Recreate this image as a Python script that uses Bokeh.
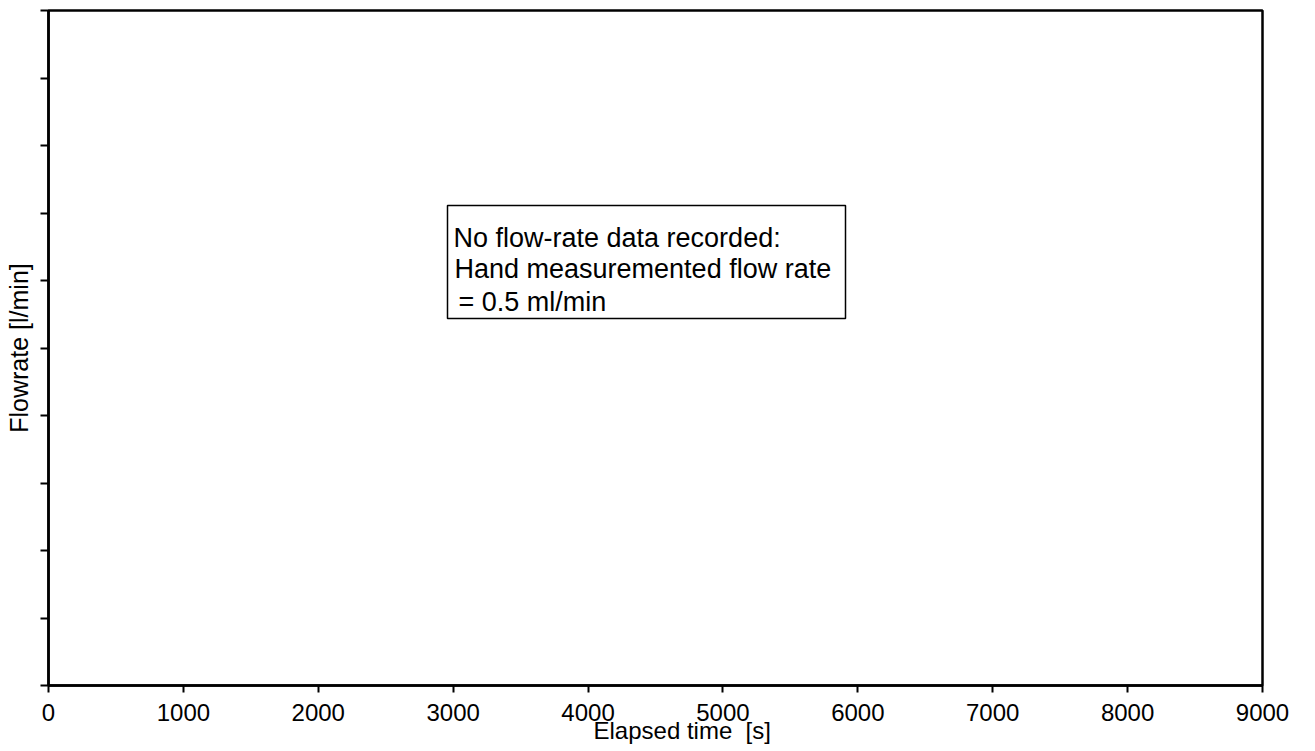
from bokeh.plotting import figure
from bokeh.models import Range1d, FixedTicker, Label, BoxAnnotation, CustomJSTickFormatter, Title
from bokeh.embed import file_html
from bokeh.resources import INLINE

# ---- data ----
x_ticks = [0, 1000, 2000, 3000, 4000, 5000, 6000, 7000, 8000, 9000]
y_ticks = [0, 1, 2, 3, 4, 5, 6, 7, 8, 9, 10]
x_label = "Elapsed time \u00a0[s]"
y_label = "Flowrate [l/min]"
note_lines = ["No flow-rate data recorded:", "Hand measuremented flow rate", "= 0.5 ml/min"]

FONT = "Liberation Sans"

p = figure(width=1315, height=751, output_backend="svg", toolbar_location=None,
           x_range=Range1d(x_ticks[0], x_ticks[-1]), y_range=Range1d(y_ticks[0], y_ticks[-1]),
           min_border_left=48, min_border_right=53, min_border_top=10, min_border_bottom=66)
p.background_fill_color = "white"
p.border_fill_color = "white"
p.grid.visible = False
p.outline_line_color = "black"
p.outline_line_width = 2.5

# x axis
xa = p.xaxis[0]
xa.ticker = FixedTicker(ticks=x_ticks)
xa.minor_tick_line_color = None
xa.major_tick_in = 0
xa.major_tick_out = 7
xa.major_tick_line_width = 2
xa.axis_line_width = 2.5
xa.major_label_standoff = 11
xa.major_label_text_font = FONT
xa.major_label_text_font_size = "24px"
xa.major_label_text_color = "black"

# y axis (no tick labels)
ya = p.yaxis[0]
ya.ticker = FixedTicker(ticks=y_ticks)
ya.minor_tick_line_color = None
ya.major_tick_in = 0
ya.major_tick_out = 8
ya.major_tick_line_width = 2
ya.axis_line_width = 2.5
ya.formatter = CustomJSTickFormatter(code="return ''")
ya.axis_label = y_label
ya.axis_label_text_font = FONT
ya.axis_label_text_font_size = "25px"
ya.axis_label_text_font_style = "normal"
ya.axis_label_text_color = "black"
ya.axis_label_standoff = 8

# x axis title as an offset title (it sits right of centre, overlapping tick labels)
p.add_layout(Title(text=x_label, align="left", offset=545, standoff=-18,
                   text_font=FONT, text_font_size="24px", text_font_style="normal",
                   text_color="black"), "below")

# frame pixel geometry -> data conversions
frame_w = 1315 - 48 - 53
frame_h = 751 - 10 - 66
def dx(px):
    return (px - 48) / frame_w * (x_ticks[-1] - x_ticks[0]) + x_ticks[0]
def dy(py):
    return (751 - 66 - py) / frame_h * (y_ticks[-1] - y_ticks[0]) + y_ticks[0]

# note box
p.add_layout(BoxAnnotation(left=dx(447), right=dx(845), top=dy(205), bottom=dy(318),
                           fill_color="white", fill_alpha=1.0, line_color="black",
                           line_alpha=1.0, line_width=1.5))
baselines = [237, 268, 301]
starts = [453, 454, 458]
for txt, b, s in zip(note_lines, baselines, starts):
    p.add_layout(Label(x=dx(s), y=dy(b), text=txt, text_font=FONT, text_font_size="27px",
                       text_align="left", text_baseline="alphabetic", text_color="black"))

open("out.html", "w").write(file_html(p, INLINE))
